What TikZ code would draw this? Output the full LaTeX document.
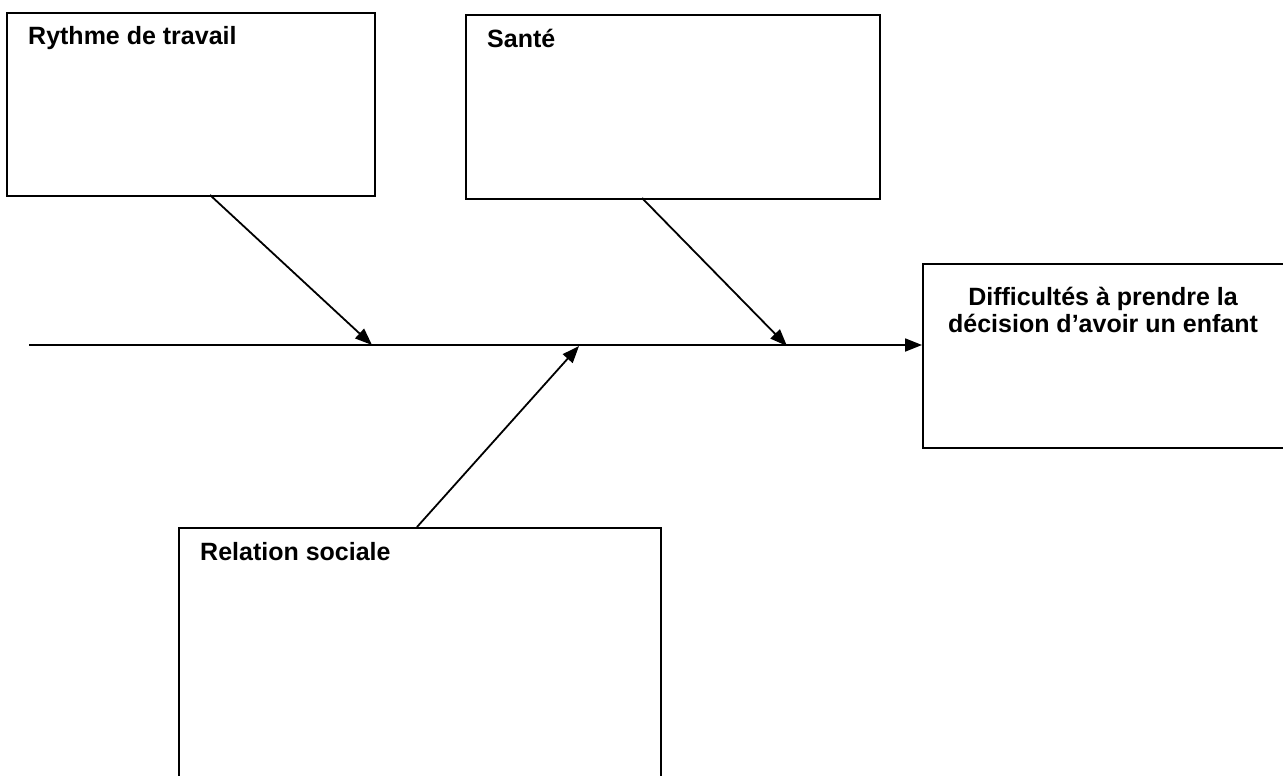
\documentclass[tikz,border=0pt]{standalone}
\usepackage{fontspec}
\setmainfont{Liberation Sans}
\usetikzlibrary{arrows.meta}
\begin{document}
\begin{tikzpicture}[x=1pt,y=-1pt,
  box/.style={draw=black,line width=2pt,rectangle,inner sep=0pt,anchor=north west},
  lbl/.style={inner sep=0pt,font=\fontsize{25}{29}\selectfont\bfseries},
  arr/.style={draw=black,line width=1.8pt,-{Triangle[length=17pt,width=13pt]}}]
\useasboundingbox (0,0) rectangle (1283,776);
\clip (0,0) rectangle (1283,776);
% boxes
\node[box,minimum width=368pt,minimum height=183pt] (b1) at (6,12) {};
\node[box,minimum width=414pt,minimum height=184pt] (b2) at (465,14) {};
\node[box,minimum width=368pt,minimum height=184pt] (b3) at (922,263) {};
\node[box,minimum width=482pt,minimum height=280pt] (b4) at (178,527) {};
% labels
\node[lbl,anchor=base west] (t1) at (28,45) {Rythme de travail};
\node[lbl,anchor=base west] (t2) at (487,48) {Santé};
\node[lbl,anchor=base] (t3a) at (1103,305) {Difficultés à prendre la};
\node[lbl,anchor=base] (t3b) at (1103,332) {décision d’avoir un enfant};
\node[lbl,anchor=base west] (t4) at (200,560) {Relation sociale};
% spine
\coordinate (m0) at (29,345);
\draw[arr] (m0) -- (m0 -| b3.west);
% branches
\coordinate (s1) at (210,195);
\coordinate (e1) at (372,345);
\coordinate (s2) at (642,198);
\coordinate (e2) at (787,346);
\coordinate (s4) at (417,527);
\coordinate (e4) at (579,346);
\draw[arr] (s1) -- (e1);
\draw[arr] (s2) -- (e2);
\draw[arr] (s4) -- (e4);
\end{tikzpicture}
\end{document}
